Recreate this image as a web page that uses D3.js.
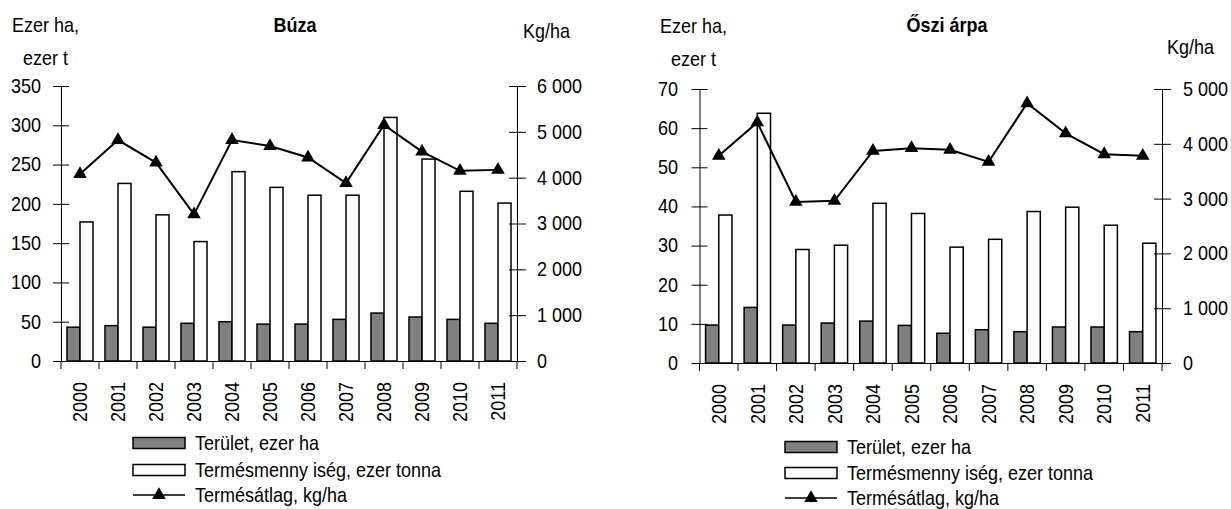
<!DOCTYPE html>
<html>
<head>
<meta charset="utf-8">
<script src="https://cdn.jsdelivr.net/npm/d3@7"></script>
<style>
  body { margin: 0; background: #fff; }
  svg text { font-family: "Liberation Sans", Arial, sans-serif; font-size: 20px; fill: #000; }
</style>
</head>
<body>
<svg id="chart" width="1231" height="509"></svg>
<script>
// categories
const years = ["2000","2001","2002","2003","2004","2005","2006","2007","2008","2009","2010","2011"];

// Búza
const buzaArea  = [43, 45, 43, 48, 50, 47, 47, 53, 61, 56, 53, 48];
const buzaProd  = [177, 226, 186, 152, 241, 221, 211, 211, 310, 257, 216, 201];
const buzaYield = [4080, 4820, 4330, 3200, 4820, 4690, 4440, 3880, 5150, 4570, 4150, 4170];
const buzaLeftTicks  = [0, 50, 100, 150, 200, 250, 300, 350];
const buzaRightTicks = [0, 1000, 2000, 3000, 4000, 5000, 6000];

// Őszi árpa
const arpaArea  = [9.7, 14.2, 9.7, 10.2, 10.7, 9.6, 7.6, 8.5, 8.0, 9.2, 9.2, 8.0];
const arpaProd  = [37.8, 63.8, 29.0, 30.1, 40.8, 38.2, 29.6, 31.6, 38.7, 39.8, 35.2, 30.6];
const arpaYield = [3780, 4390, 2940, 2960, 3870, 3920, 3890, 3670, 4740, 4190, 3810, 3780];
const arpaLeftTicks  = [0, 10, 20, 30, 40, 50, 60, 70];
const arpaRightTicks = [0, 1000, 2000, 3000, 4000, 5000];

const legendLabels = ["Terület, ezer ha", "Termésmenny iség, ezer tonna", "Termésátlag, kg/ha"];

const svg = d3.select("#chart");
const sx = 0.9; // the source font is set a bit narrow
const fmt = d3.formatLocale({decimal: ",", thousands: " ", grouping: [3], currency: ["", ""]}).format(",");

function addText(g, x, y, txt, anchor, bold) {
  return g.append("text")
    .attr("transform", `translate(${x},${y}) scale(${sx},1)`)
    .attr("text-anchor", anchor || "start")
    .style("font-weight", bold ? "bold" : null)
    .text(txt);
}

function drawPanel(p) {
  let g = svg.append("g");

  let x = d3.scaleBand().domain(years).range([p.left, p.right]);
  let sub = d3.scaleBand().domain(["area", "prod"]).range([0, x.bandwidth()]).paddingOuter(0.46);
  let yL = d3.scaleLinear().domain([0, p.leftTicks[p.leftTicks.length - 1]]).range([p.bottom, p.top]);
  let yR = d3.scaleLinear().domain([0, p.rightTicks[p.rightTicks.length - 1]]).range([p.bottom, p.top]);

  // bars
  g.selectAll("rect.area")
    .data(p.area)
    .join("rect")
    .attr("class", "area")
    .attr("x", (d, i) => x(years[i]) + sub("area"))
    .attr("y", d => yL(d))
    .attr("width", sub.bandwidth())
    .attr("height", d => yL(0) - yL(d))
    .attr("fill", "#808080")
    .attr("stroke", "#000")
    .attr("stroke-width", 1.5);

  g.selectAll("rect.prod")
    .data(p.prod)
    .join("rect")
    .attr("class", "prod")
    .attr("x", (d, i) => x(years[i]) + sub("prod"))
    .attr("y", d => yL(d))
    .attr("width", sub.bandwidth())
    .attr("height", d => yL(0) - yL(d))
    .attr("fill", "#fff")
    .attr("stroke", "#000")
    .attr("stroke-width", 1.5);

  // left axis, ticks cross the line
  let axL = g.append("g")
    .attr("transform", `translate(${p.left},0)`)
    .call(d3.axisLeft(yL).tickValues(p.leftTicks).tickSize(0).tickSizeOuter(0));
  axL.selectAll(".tick line").attr("x1", -8).attr("x2", 8);
  axL.selectAll(".tick text")
    .attr("x", -p.leftPad / sx)
    .attr("transform", `scale(${sx},1)`);

  // right axis
  let axR = g.append("g")
    .attr("transform", `translate(${p.right},0)`)
    .call(d3.axisRight(yR).tickValues(p.rightTicks).tickFormat(fmt).tickSize(0).tickSizeOuter(0));
  axR.selectAll(".tick line").attr("x1", -8).attr("x2", 9);
  axR.selectAll(".tick text")
    .attr("x", p.rightPad / sx)
    .attr("transform", `scale(${sx},1)`);

  // bottom axis, labels rotated
  let axB = g.append("g")
    .attr("transform", `translate(0,${p.bottom})`)
    .call(d3.axisBottom(x).tickSize(0).tickSizeOuter(0));
  axB.selectAll(".tick text")
    .attr("x", 0).attr("y", 0)
    .attr("dy", "0.36em")
    .attr("text-anchor", "end")
    .attr("transform", `translate(0,21) rotate(-90) scale(${sx},1)`);

  // category ticks sit on band edges
  let edges = years.map(d => x(d)).concat([p.right]);
  axB.selectAll("line.edge")
    .data(edges)
    .join("line")
    .attr("class", "edge")
    .attr("x1", d => d).attr("x2", d => d)
    .attr("y1", 0).attr("y2", 8)
    .attr("stroke", "#000");

  g.selectAll(".domain").attr("stroke", "#000").attr("stroke-width", 1);

  // yield line + markers
  let line = d3.line()
    .x((d, i) => x(years[i]) + x.bandwidth() / 2)
    .y(d => yR(d));

  g.append("path")
    .datum(p.yield)
    .attr("d", line)
    .attr("fill", "none")
    .attr("stroke", "#000")
    .attr("stroke-width", 2);

  let tri = d3.symbol(d3.symbolTriangle, 80);
  g.selectAll("path.marker")
    .data(p.yield)
    .join("path")
    .attr("class", "marker")
    .attr("d", tri)
    .attr("transform", (d, i) => `translate(${x(years[i]) + x.bandwidth() / 2},${yR(d)})`)
    .attr("fill", "#000");

  // texts around the plot
  addText(g, p.unitX, p.unitY, "Ezer ha,");
  addText(g, p.unitX + 11, p.unitY + 33, "ezer t");
  addText(g, p.titleX, p.titleY, p.title, "middle", true);
  addText(g, p.kgX, p.kgY, "Kg/ha");

  // legend
  let lg = g.append("g").attr("transform", `translate(${p.legX},0)`);
  p.legY.forEach((cy, i) => {
    if (i < 2) {
      lg.append("rect")
        .attr("x", 0).attr("y", cy - 5.5)
        .attr("width", 52).attr("height", 11)
        .attr("fill", i === 0 ? "#808080" : "#fff")
        .attr("stroke", "#000")
        .attr("stroke-width", 1.5);
    } else {
      lg.append("line")
        .attr("x1", 0).attr("x2", 52)
        .attr("y1", cy).attr("y2", cy)
        .attr("stroke", "#000").attr("stroke-width", 1.5);
      lg.append("path")
        .attr("d", tri)
        .attr("transform", `translate(26,${cy})`)
        .attr("fill", "#000");
    }
    addText(lg, 62, cy + 7, legendLabels[i]);
  });
}

drawPanel({
  area: buzaArea, prod: buzaProd, yield: buzaYield,
  leftTicks: buzaLeftTicks, rightTicks: buzaRightTicks,
  left: 61, right: 517, top: 86, bottom: 361,
  leftPad: 20, rightPad: 20,
  title: "Búza", titleX: 295, titleY: 32,
  unitX: 12, unitY: 32, kgX: 523, kgY: 38,
  legX: 133, legY: [443, 470, 495]
});

drawPanel({
  area: arpaArea, prod: arpaProd, yield: arpaYield,
  leftTicks: arpaLeftTicks, rightTicks: arpaRightTicks,
  left: 699.5, right: 1162, top: 89, bottom: 363,
  leftPad: 21.5, rightPad: 21,
  title: "Őszi árpa", titleX: 947, titleY: 32,
  unitX: 660, unitY: 33, kgX: 1167, kgY: 54,
  legX: 785, legY: [447, 473, 498]
});
</script>
</body>
</html>
